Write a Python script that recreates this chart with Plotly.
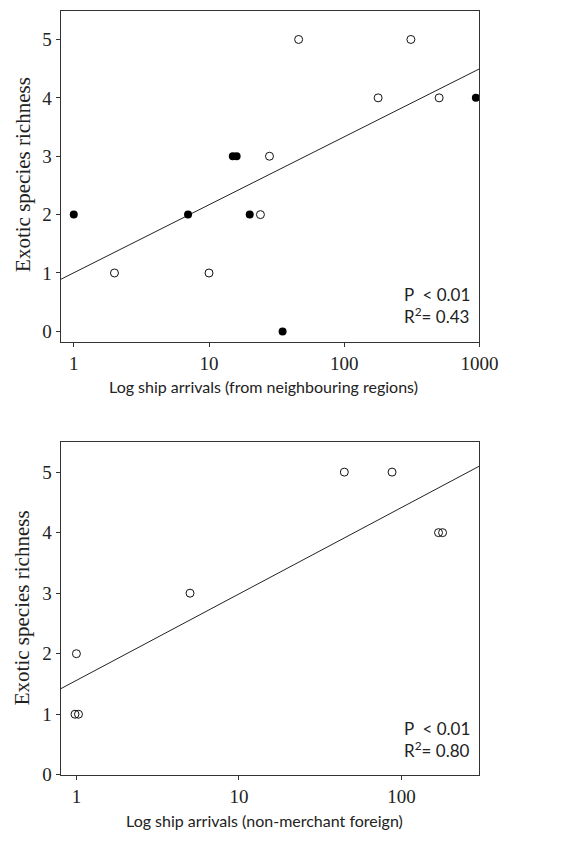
import numpy as np
import plotly.graph_objects as go

# ---- Data: top panel (from neighbouring regions) ----
top_open_x = [2, 10, 24, 28, 46, 178, 311, 503]
top_open_y = [1, 1, 2, 3, 5, 4, 5, 4]
top_fill_x = [1, 7, 20, 15, 16, 35, 940]
top_fill_y = [2, 2, 2, 3, 3, 0, 4]

# ---- Data: bottom panel (non-merchant foreign) ----
bot_x = [1, 0.98, 1.03, 5, 44.5, 87.5, 169, 179]
bot_y = [2, 1, 1, 3, 5, 5, 4, 4]

top_xticks = [1, 10, 100, 1000]
bot_xticks = [1, 10, 100]
y_ticks = [0, 1, 2, 3, 4, 5]

top_stats = "P  < 0.01<br>R<sup>2</sup>= 0.43"
bot_stats = "P  < 0.01<br>R<sup>2</sup>= 0.80"

top_xrange = [-0.097, 3.0]
bot_xrange = [-0.097, 2.48]
top_yrange = [-0.19, 5.49]
bot_yrange = [0.0, 5.5]

W, H = 581, 843
def px_x(a, b):
    return [a / W, b / W]
def px_y(top, bottom):
    return [1 - bottom / H, 1 - top / H]

def fit_line(xs, ys, xr):
    lx = np.log10(np.array(xs, dtype=float))
    b, a = np.polyfit(lx, np.array(ys, dtype=float), 1)
    ex = np.array(xr)
    return list(10 ** ex), list(a + b * ex)

fig = go.Figure()

all_top_x = top_open_x + top_fill_x
all_top_y = top_open_y + top_fill_y
lx, ly = fit_line(all_top_x, all_top_y, top_xrange)
fig.add_trace(go.Scatter(x=lx, y=ly, mode="lines", line=dict(color="#222", width=1),
                         xaxis="x", yaxis="y", hoverinfo="skip"))
fig.add_trace(go.Scatter(x=top_open_x, y=top_open_y, mode="markers",
                         marker=dict(symbol="circle-open", size=8, color="#111",
                                     line=dict(width=1, color="#111")),
                         xaxis="x", yaxis="y"))
fig.add_trace(go.Scatter(x=top_fill_x, y=top_fill_y, mode="markers",
                         marker=dict(symbol="circle", size=8, color="#000"),
                         xaxis="x", yaxis="y"))

lx2, ly2 = fit_line(bot_x, bot_y, bot_xrange)
fig.add_trace(go.Scatter(x=lx2, y=ly2, mode="lines", line=dict(color="#222", width=1),
                         xaxis="x2", yaxis="y2", hoverinfo="skip"))
fig.add_trace(go.Scatter(x=bot_x, y=bot_y, mode="markers",
                         marker=dict(symbol="circle-open", size=8, color="#111",
                                     line=dict(width=1, color="#111")),
                         xaxis="x2", yaxis="y2"))

serif = "Liberation Serif"
sans = "Lato"
axcol = "#333"

common_x = dict(type="log", showgrid=False, zeroline=False, showline=True, mirror=True,
                linecolor=axcol, linewidth=1, ticks="outside", ticklen=4, tickcolor=axcol,
                tickfont=dict(family=serif, size=19, color="#222"))
common_y = dict(showgrid=False, zeroline=False, showline=True, mirror=True,
                linecolor=axcol, linewidth=1, ticks="outside", ticklen=4, tickcolor=axcol,
                tickfont=dict(family=serif, size=19, color="#222"))

fig.update_layout(
    width=W, height=H, margin=dict(l=0, r=0, t=0, b=0),
    paper_bgcolor="white", plot_bgcolor="white", showlegend=False,
    xaxis=dict(common_x, domain=px_x(62.7, 495.7), range=top_xrange, anchor="y",
               tickvals=top_xticks, ticktext=[str(v) for v in top_xticks]),
    yaxis=dict(common_y, domain=px_y(11, 347), range=top_yrange, anchor="x",
               tickvals=y_ticks),
    xaxis2=dict(common_x, domain=px_x(62.7, 495.7), range=bot_xrange, anchor="y2",
                tickvals=bot_xticks, ticktext=[str(v) for v in bot_xticks]),
    yaxis2=dict(common_y, domain=px_y(447.7, 785), range=bot_yrange, anchor="x2",
                tickvals=y_ticks),
)

ann = []
for yc in (177, 616):
    ann.append(dict(text="Exotic species richness", textangle=-90, x=23 / W, y=1 - yc / H,
                    xref="paper", yref="paper", xanchor="center", yanchor="middle",
                    showarrow=False, font=dict(family=serif, size=21, color="#222")))
ann.append(dict(text="Log ship arrivals (from neighbouring regions)", x=272 / W, y=1 - 392 / H,
                xref="paper", yref="paper", xanchor="center", yanchor="middle", showarrow=False,
                font=dict(family=sans, size=16, color="#222")))
ann.append(dict(text="Log ship arrivals (non-merchant foreign)", x=273 / W, y=1 - 831 / H,
                xref="paper", yref="paper", xanchor="center", yanchor="middle", showarrow=False,
                font=dict(family=sans, size=16, color="#222")))
ann.append(dict(text=top_stats, xref="x domain", yref="y domain", x=0.816, y=0.04,
                xanchor="left", yanchor="bottom", align="left", showarrow=False,
                font=dict(family=sans, size=17, color="#222")))
ann.append(dict(text=bot_stats, xref="x2 domain", yref="y2 domain", x=0.816, y=0.035,
                xanchor="left", yanchor="bottom", align="left", showarrow=False,
                font=dict(family=sans, size=17, color="#222")))
fig.update_layout(annotations=ann)

fig.write_html("out.html", config={"displayModeBar": False},
               post_script="document.body.style.margin='0';document.body.style.overflow='hidden';")
